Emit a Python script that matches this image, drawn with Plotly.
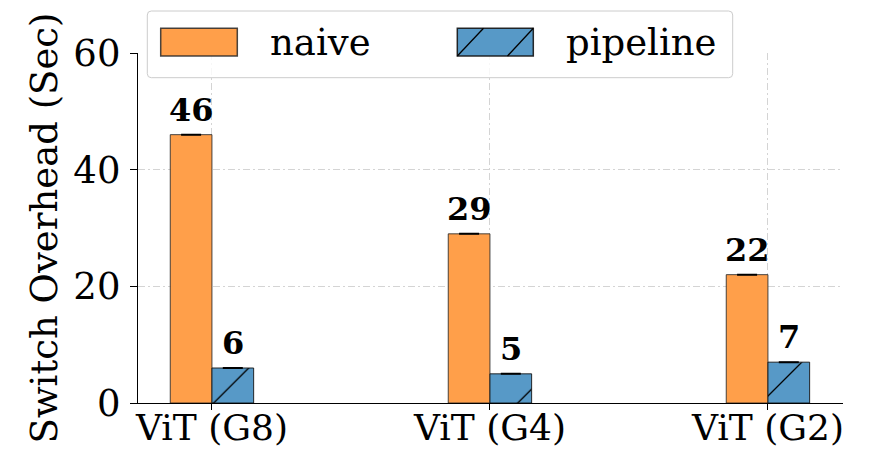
import plotly.graph_objects as go

# ---- data ----
categories = ["ViT (G8)", "ViT (G4)", "ViT (G2)"]
naive = [46, 29, 22]
pipeline = [6, 5, 7]
series_names = ["naive", "pipeline"]
y_ticks = [0, 20, 40, 60]

ORANGE = "#FF9F4A"
BLUE = "#5799C7"
FONT = "DejaVu Serif"
FS = 37
FS_VAL = 32

W, H = 876, 452
ML, MR, MT, MB = 138, 33, 53, 49
PW, PH = W - ML - MR, H - MT - MB

def px(x):
    return (x - ML) / PW

def py(y):
    return (H - MB - y) / PH

xs = list(range(len(categories)))
bar_w = 0.15

fig = go.Figure()
fig.add_trace(go.Bar(
    x=xs, y=naive, name=series_names[0], width=bar_w, offset=-bar_w,
    marker=dict(color=ORANGE, line=dict(color="rgba(40,40,40,0.85)", width=1)),
    error_y=dict(type="data", array=[0] * len(naive), width=10, thickness=2, color="black"),
    showlegend=False,
))
fig.add_trace(go.Bar(
    x=xs, y=pipeline, name=series_names[1], width=bar_w, offset=0,
    marker=dict(color=BLUE, line=dict(color="rgba(20,20,20,0.9)", width=1),
                pattern=dict(shape="/", size=43, solidity=0.03, fgcolor="black",
                             bgcolor=BLUE, fillmode="replace")),
    error_y=dict(type="data", array=[0] * len(pipeline), width=10, thickness=2, color="black"),
    showlegend=False,
))

# value labels above bars
for vals, off in ((naive, -bar_w / 2), (pipeline, bar_w / 2)):
    for i, v in enumerate(vals):
        fig.add_annotation(x=i + off, y=v, text=f"<b>{v}</b>", showarrow=False,
                           xanchor="center", yanchor="bottom", yshift=4,
                           font=dict(family=FONT, size=FS_VAL, color="black"))

# legend box drawn by hand so the patches can be wide
bx0, bx1, by0, by1, r = 147.3, 732.7, 11, 77.7, 4
rx, ry = r / PW, r / PH
X0, X1, Y0, Y1 = px(bx0), px(bx1), py(by1), py(by0)
path = (f"M {X0+rx},{Y0} L {X1-rx},{Y0} Q {X1},{Y0} {X1},{Y0+ry} "
        f"L {X1},{Y1-ry} Q {X1},{Y1} {X1-rx},{Y1} L {X0+rx},{Y1} "
        f"Q {X0},{Y1} {X0},{Y1-ry} L {X0},{Y0+ry} Q {X0},{Y0} {X0+rx},{Y0} Z")
shapes = [dict(type="path", xref="paper", yref="paper", path=path,
               fillcolor="rgba(255,255,255,0.8)", line=dict(color="#cccccc", width=1),
               layer="above")]
patches = [(160.7, 237.3, ORANGE, "rgba(40,40,40,0.85)"), (457.3, 533.3, BLUE, "rgba(20,20,20,0.9)")]
for x0, x1, c, lc in patches:
    shapes.append(dict(type="rect", xref="paper", yref="paper",
                       x0=px(x0), x1=px(x1), y0=py(56), y1=py(28.3),
                       fillcolor=c, line=dict(color=lc, width=1.5), layer="above"))
for hx0, hx1 in ((457.3, 483.5), (507.5, 533.3)):
    shapes.append(dict(type="line", xref="paper", yref="paper",
                       x0=px(hx0), y0=py(56), x1=px(hx1), y1=py(28.3),
                       line=dict(color="black", width=1.3), layer="above"))
for name, tx in zip(series_names, (268, 564)):
    fig.add_annotation(xref="paper", yref="paper", x=px(tx), y=py(42), text=name,
                       showarrow=False, xanchor="left", yanchor="middle",
                       font=dict(family=FONT, size=FS, color="black"))

grid = dict(gridcolor="#d4d4d4", gridwidth=1.3, griddash="7px,3px,2px,3px")

fig.update_layout(
    width=W, height=H, margin=dict(l=ML, r=MR, t=MT, b=MB),
    plot_bgcolor="white", paper_bgcolor="white",
    font=dict(family=FONT, size=FS, color="black"),
    barmode="overlay", shapes=shapes,
    xaxis=dict(range=[-0.266, 2.27], tickvals=xs, ticktext=categories,
               showline=True, linecolor="black", linewidth=1.3,
               ticks="outside", ticklen=6, tickwidth=1.3, tickcolor="black",
               ticklabelstandoff=-13, tickfont=dict(family=FONT, size=36),
               showgrid=True, zeroline=False, automargin=False, **grid),
    yaxis=dict(range=[0, 60], tickvals=y_ticks, showline=True, linecolor="black",
               linewidth=1.3, ticks="outside", ticklen=7, tickwidth=1.3,
               tickcolor="black", ticklabelstandoff=2, showgrid=True, zeroline=False,
               automargin=False,
               title=dict(text="Switch Overhead (Sec)", standoff=4,
                          font=dict(family=FONT, size=FS)),
               **grid),
)

fig.write_html("out.html")
